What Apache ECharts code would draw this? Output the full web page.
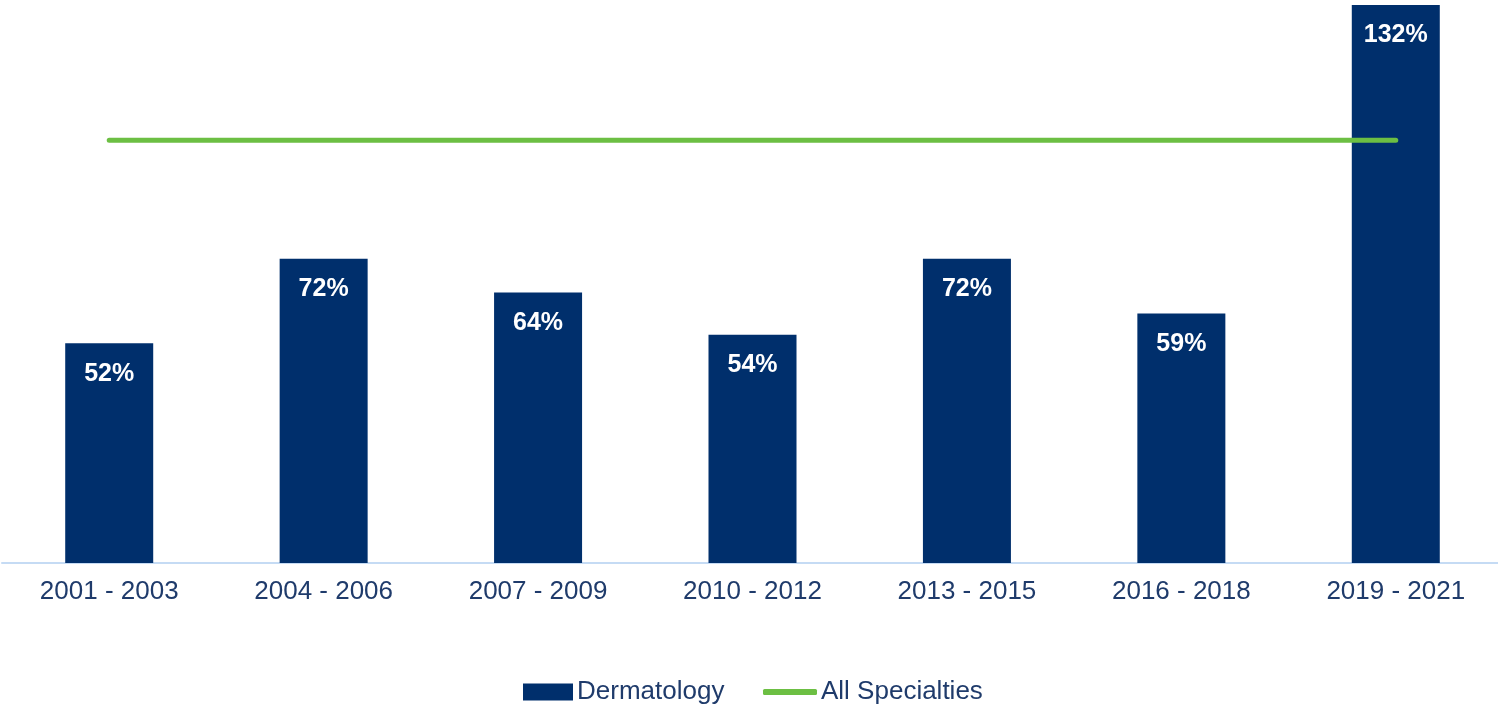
<!DOCTYPE html>
<html>
<head>
<meta charset="utf-8">
<script src="https://cdn.jsdelivr.net/npm/echarts@6/dist/echarts.min.js"></script>
<style>
  html, body { margin: 0; padding: 0; background: #ffffff; overflow: hidden; }
  #chart { width: 1503px; height: 709px; }
</style>
</head>
<body>
<div id="chart"></div>
<script>
// Three-year periods on the category axis
var periods = ['2001 - 2003', '2004 - 2006', '2007 - 2009', '2010 - 2012', '2013 - 2015', '2016 - 2018', '2019 - 2021'];
// Growth per period, percent
var dermatology = [52, 72, 64, 54, 72, 59, 132];
var allSpecialties = [100, 100, 100, 100, 100, 100, 100];

var navy = '#002f6c';
var green = '#6cbf43';
var textColor = '#1f3b6b';
var font = 'Liberation Sans, Arial, sans-serif';

var chart = echarts.init(document.getElementById('chart'));
chart.setOption({
  backgroundColor: '#ffffff',
  animation: false,
  grid: { left: 2, right: 0, top: 5, bottom: 146 },
  legend: [
    {
      data: [{ name: 'Dermatology', icon: 'rect' }],
      left: 523, top: 679, padding: 0,
      itemWidth: 50, itemHeight: 17, itemGap: 6,
      textStyle: { color: textColor, fontSize: 26, fontFamily: font, padding: [0, 0, 0, -1] }
    },
    {
      data: [{ name: 'All Specialties', icon: 'roundRect' }],
      left: 763, top: 679, padding: 0,
      itemWidth: 54, itemHeight: 6, itemGap: 6,
      textStyle: { color: textColor, fontSize: 26, fontFamily: font, padding: [0, 0, 0, -1] }
    }
  ],
  xAxis: {
    type: 'category',
    data: periods,
    axisLine: { show: true, lineStyle: { color: '#c5dbf4', width: 2 } },
    axisTick: { show: false },
    axisLabel: { color: textColor, fontSize: 26, fontFamily: font, margin: 16 }
  },
  yAxis: {
    type: 'value',
    min: 0,
    max: 132,
    show: false,
    splitLine: { show: false }
  },
  series: [
    {
      name: 'Dermatology',
      type: 'bar',
      data: dermatology,
      barWidth: 88,
      itemStyle: { color: navy },
      label: {
        show: true,
        position: 'insideTop',
        distance: 18,
        color: '#ffffff',
        fontWeight: 'bold',
        fontSize: 25,
        fontFamily: font,
        formatter: '{c}%'
      },
      z: 2
    },
    {
      name: 'All Specialties',
      type: 'line',
      data: allSpecialties,
      symbol: 'none',
      lineStyle: { color: green, width: 5, cap: 'round' },
      itemStyle: { color: green },
      z: 3
    }
  ]
});
</script>
</body>
</html>
